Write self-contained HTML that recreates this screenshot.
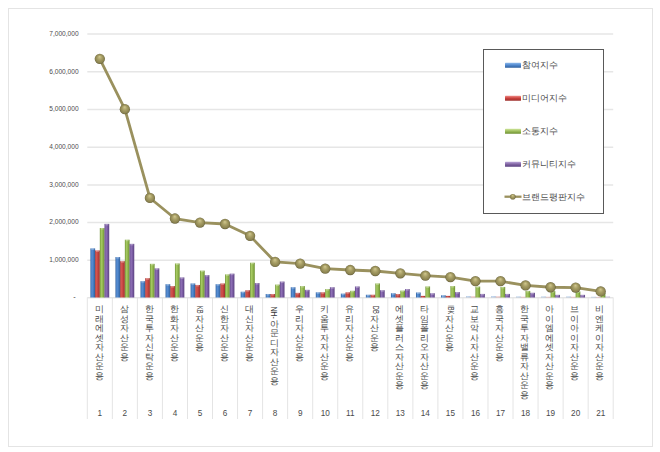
<!DOCTYPE html>
<html><head><meta charset="utf-8"><style>
html,body{margin:0;padding:0;background:#fff;}
body{width:660px;height:452px;overflow:hidden;position:relative;font-family:"Liberation Sans",sans-serif;}
svg{position:absolute;left:0;top:0;}
.lbl{position:absolute;color:#4a4a4a;font-size:9px;line-height:9.5px;text-align:center;white-space:nowrap;}
.rot{display:inline-block;color:#3a3a3a;transform:rotate(90deg) scaleX(0.7);font-size:8px;line-height:9.5px;}
</style></head><body>
<svg width="660" height="452" viewBox="0 0 660 452">
<defs>
<linearGradient id="gb" x1="0" x2="1" y1="0" y2="0"><stop offset="0" stop-color="#2d5c99"/><stop offset="0.3" stop-color="#5a92d8"/><stop offset="0.6" stop-color="#4a80c4"/><stop offset="1" stop-color="#2f5e9a"/></linearGradient>
<linearGradient id="gr" x1="0" x2="1" y1="0" y2="0"><stop offset="0" stop-color="#9e302e"/><stop offset="0.3" stop-color="#d65550"/><stop offset="0.6" stop-color="#c4433f"/><stop offset="1" stop-color="#9b302d"/></linearGradient>
<linearGradient id="gg" x1="0" x2="1" y1="0" y2="0"><stop offset="0" stop-color="#6f9233"/><stop offset="0.3" stop-color="#a6ca62"/><stop offset="0.6" stop-color="#92b74f"/><stop offset="1" stop-color="#6c8f31"/></linearGradient>
<linearGradient id="gp" x1="0" x2="1" y1="0" y2="0"><stop offset="0" stop-color="#5c4382"/><stop offset="0.3" stop-color="#9072b8"/><stop offset="0.6" stop-color="#7c5ea5"/><stop offset="1" stop-color="#5a4180"/></linearGradient>
<linearGradient id="lb" x1="0" x2="0" y1="0" y2="1"><stop offset="0" stop-color="#8ab8ec"/><stop offset="0.5" stop-color="#4f86cc"/><stop offset="1" stop-color="#2e5f9c"/></linearGradient>
<linearGradient id="lr" x1="0" x2="0" y1="0" y2="1"><stop offset="0" stop-color="#f08a86"/><stop offset="0.5" stop-color="#c9403c"/><stop offset="1" stop-color="#9b302d"/></linearGradient>
<linearGradient id="lg" x1="0" x2="0" y1="0" y2="1"><stop offset="0" stop-color="#cfe69a"/><stop offset="0.5" stop-color="#9bbb59"/><stop offset="1" stop-color="#6c8f31"/></linearGradient>
<linearGradient id="lp" x1="0" x2="0" y1="0" y2="1"><stop offset="0" stop-color="#b9a3d8"/><stop offset="0.5" stop-color="#8064a2"/><stop offset="1" stop-color="#5a4180"/></linearGradient>
<radialGradient id="gm" cx="0.5" cy="0.5" r="0.5" fx="0.48" fy="0.28"><stop offset="0" stop-color="#d2c990"/><stop offset="0.45" stop-color="#a89f66"/><stop offset="0.85" stop-color="#8b8350"/><stop offset="1" stop-color="#66603a"/></radialGradient>
</defs>
<rect x="8.5" y="8.5" width="644" height="438" fill="#fff" stroke="#e4e4e4" stroke-width="1"/>

<line x1="87.3" y1="260.30" x2="613.2" y2="260.30" stroke="#e6e6e6" stroke-width="1.5"/>
<text x="78.6" y="261.60" text-anchor="end" font-family="Liberation Sans" font-size="6.6" fill="#4d4d4d">1,000,000</text>
<line x1="87.3" y1="222.60" x2="613.2" y2="222.60" stroke="#e6e6e6" stroke-width="1.5"/>
<text x="78.6" y="224.07" text-anchor="end" font-family="Liberation Sans" font-size="6.6" fill="#4d4d4d">2,000,000</text>
<line x1="87.3" y1="184.90" x2="613.2" y2="184.90" stroke="#e6e6e6" stroke-width="1.5"/>
<text x="78.6" y="186.54" text-anchor="end" font-family="Liberation Sans" font-size="6.6" fill="#4d4d4d">3,000,000</text>
<line x1="87.3" y1="147.20" x2="613.2" y2="147.20" stroke="#e6e6e6" stroke-width="1.5"/>
<text x="78.6" y="149.01" text-anchor="end" font-family="Liberation Sans" font-size="6.6" fill="#4d4d4d">4,000,000</text>
<line x1="87.3" y1="109.50" x2="613.2" y2="109.50" stroke="#e6e6e6" stroke-width="1.5"/>
<text x="78.6" y="111.48" text-anchor="end" font-family="Liberation Sans" font-size="6.6" fill="#4d4d4d">5,000,000</text>
<line x1="87.3" y1="71.80" x2="613.2" y2="71.80" stroke="#e6e6e6" stroke-width="1.5"/>
<text x="78.6" y="73.95" text-anchor="end" font-family="Liberation Sans" font-size="6.6" fill="#4d4d4d">6,000,000</text>
<line x1="87.3" y1="34.10" x2="613.2" y2="34.10" stroke="#e6e6e6" stroke-width="1.5"/>
<text x="78.6" y="36.42" text-anchor="end" font-family="Liberation Sans" font-size="6.6" fill="#4d4d4d">7,000,000</text>
<text x="75.8" y="298.70" text-anchor="end" font-family="Liberation Sans" font-size="7.4" fill="#333">-</text>
<line x1="87.3" y1="297.8" x2="613.2" y2="297.8" stroke="#dadada" stroke-width="1"/>
<line x1="87.30" y1="297.5" x2="87.30" y2="419" stroke="#e4e4e4" stroke-width="1"/>
<line x1="112.34" y1="297.5" x2="112.34" y2="419" stroke="#e4e4e4" stroke-width="1"/>
<line x1="137.39" y1="297.5" x2="137.39" y2="419" stroke="#e4e4e4" stroke-width="1"/>
<line x1="162.43" y1="297.5" x2="162.43" y2="419" stroke="#e4e4e4" stroke-width="1"/>
<line x1="187.47" y1="297.5" x2="187.47" y2="419" stroke="#e4e4e4" stroke-width="1"/>
<line x1="212.51" y1="297.5" x2="212.51" y2="419" stroke="#e4e4e4" stroke-width="1"/>
<line x1="237.56" y1="297.5" x2="237.56" y2="419" stroke="#e4e4e4" stroke-width="1"/>
<line x1="262.60" y1="297.5" x2="262.60" y2="419" stroke="#e4e4e4" stroke-width="1"/>
<line x1="287.64" y1="297.5" x2="287.64" y2="419" stroke="#e4e4e4" stroke-width="1"/>
<line x1="312.69" y1="297.5" x2="312.69" y2="419" stroke="#e4e4e4" stroke-width="1"/>
<line x1="337.73" y1="297.5" x2="337.73" y2="419" stroke="#e4e4e4" stroke-width="1"/>
<line x1="362.77" y1="297.5" x2="362.77" y2="419" stroke="#e4e4e4" stroke-width="1"/>
<line x1="387.81" y1="297.5" x2="387.81" y2="419" stroke="#e4e4e4" stroke-width="1"/>
<line x1="412.86" y1="297.5" x2="412.86" y2="419" stroke="#e4e4e4" stroke-width="1"/>
<line x1="437.90" y1="297.5" x2="437.90" y2="419" stroke="#e4e4e4" stroke-width="1"/>
<line x1="462.94" y1="297.5" x2="462.94" y2="419" stroke="#e4e4e4" stroke-width="1"/>
<line x1="487.99" y1="297.5" x2="487.99" y2="419" stroke="#e4e4e4" stroke-width="1"/>
<line x1="513.03" y1="297.5" x2="513.03" y2="419" stroke="#e4e4e4" stroke-width="1"/>
<line x1="538.07" y1="297.5" x2="538.07" y2="419" stroke="#e4e4e4" stroke-width="1"/>
<line x1="563.11" y1="297.5" x2="563.11" y2="419" stroke="#e4e4e4" stroke-width="1"/>
<line x1="588.16" y1="297.5" x2="588.16" y2="419" stroke="#e4e4e4" stroke-width="1"/>
<line x1="613.20" y1="297.5" x2="613.20" y2="419" stroke="#e4e4e4" stroke-width="1"/>
<rect x="90.42" y="248.38" width="4.7" height="49.12" fill="url(#gb)"/>
<rect x="91.22" y="248.38" width="3.10" height="1.5" fill="#fff" fill-opacity="0.3"/>
<rect x="95.12" y="250.41" width="4.7" height="47.09" fill="url(#gr)"/>
<rect x="95.92" y="250.41" width="3.10" height="1.5" fill="#fff" fill-opacity="0.3"/>
<rect x="99.82" y="228.02" width="4.7" height="69.48" fill="url(#gg)"/>
<rect x="100.62" y="228.02" width="3.10" height="1.5" fill="#fff" fill-opacity="0.3"/>
<rect x="104.52" y="223.87" width="4.7" height="73.63" fill="url(#gp)"/>
<rect x="105.32" y="223.87" width="3.10" height="1.5" fill="#fff" fill-opacity="0.3"/>
<rect x="115.46" y="257.05" width="4.7" height="40.45" fill="url(#gb)"/>
<rect x="116.26" y="257.05" width="3.10" height="1.5" fill="#fff" fill-opacity="0.3"/>
<rect x="120.16" y="261.19" width="4.7" height="36.31" fill="url(#gr)"/>
<rect x="120.96" y="261.19" width="3.10" height="1.5" fill="#fff" fill-opacity="0.3"/>
<rect x="124.86" y="239.71" width="4.7" height="57.79" fill="url(#gg)"/>
<rect x="125.66" y="239.71" width="3.10" height="1.5" fill="#fff" fill-opacity="0.3"/>
<rect x="129.56" y="243.85" width="4.7" height="53.65" fill="url(#gp)"/>
<rect x="130.36" y="243.85" width="3.10" height="1.5" fill="#fff" fill-opacity="0.3"/>
<rect x="140.51" y="281.18" width="4.7" height="16.32" fill="url(#gb)"/>
<rect x="141.31" y="281.18" width="3.10" height="1.5" fill="#fff" fill-opacity="0.3"/>
<rect x="145.21" y="278.16" width="4.7" height="19.34" fill="url(#gr)"/>
<rect x="146.01" y="278.16" width="3.10" height="1.5" fill="#fff" fill-opacity="0.3"/>
<rect x="149.91" y="263.83" width="4.7" height="33.67" fill="url(#gg)"/>
<rect x="150.71" y="263.83" width="3.10" height="1.5" fill="#fff" fill-opacity="0.3"/>
<rect x="154.61" y="268.36" width="4.7" height="29.14" fill="url(#gp)"/>
<rect x="155.41" y="268.36" width="3.10" height="1.5" fill="#fff" fill-opacity="0.3"/>
<rect x="165.55" y="284.19" width="4.7" height="13.31" fill="url(#gb)"/>
<rect x="166.35" y="284.19" width="3.10" height="1.5" fill="#fff" fill-opacity="0.3"/>
<rect x="170.25" y="286.08" width="4.7" height="11.42" fill="url(#gr)"/>
<rect x="171.05" y="286.08" width="3.10" height="1.5" fill="#fff" fill-opacity="0.3"/>
<rect x="174.95" y="263.46" width="4.7" height="34.04" fill="url(#gg)"/>
<rect x="175.75" y="263.46" width="3.10" height="1.5" fill="#fff" fill-opacity="0.3"/>
<rect x="179.65" y="277.41" width="4.7" height="20.09" fill="url(#gp)"/>
<rect x="180.45" y="277.41" width="3.10" height="1.5" fill="#fff" fill-opacity="0.3"/>
<rect x="190.59" y="283.44" width="4.7" height="14.06" fill="url(#gb)"/>
<rect x="191.39" y="283.44" width="3.10" height="1.5" fill="#fff" fill-opacity="0.3"/>
<rect x="195.29" y="284.95" width="4.7" height="12.55" fill="url(#gr)"/>
<rect x="196.09" y="284.95" width="3.10" height="1.5" fill="#fff" fill-opacity="0.3"/>
<rect x="199.99" y="270.62" width="4.7" height="26.88" fill="url(#gg)"/>
<rect x="200.79" y="270.62" width="3.10" height="1.5" fill="#fff" fill-opacity="0.3"/>
<rect x="204.69" y="275.14" width="4.7" height="22.36" fill="url(#gp)"/>
<rect x="205.49" y="275.14" width="3.10" height="1.5" fill="#fff" fill-opacity="0.3"/>
<rect x="215.64" y="284.19" width="4.7" height="13.31" fill="url(#gb)"/>
<rect x="216.44" y="284.19" width="3.10" height="1.5" fill="#fff" fill-opacity="0.3"/>
<rect x="220.34" y="283.44" width="4.7" height="14.06" fill="url(#gr)"/>
<rect x="221.14" y="283.44" width="3.10" height="1.5" fill="#fff" fill-opacity="0.3"/>
<rect x="225.04" y="274.39" width="4.7" height="23.11" fill="url(#gg)"/>
<rect x="225.84" y="274.39" width="3.10" height="1.5" fill="#fff" fill-opacity="0.3"/>
<rect x="229.74" y="273.64" width="4.7" height="23.86" fill="url(#gp)"/>
<rect x="230.54" y="273.64" width="3.10" height="1.5" fill="#fff" fill-opacity="0.3"/>
<rect x="240.68" y="291.73" width="4.7" height="5.77" fill="url(#gb)"/>
<rect x="241.48" y="291.73" width="3.10" height="1.5" fill="#fff" fill-opacity="0.3"/>
<rect x="245.38" y="290.22" width="4.7" height="7.28" fill="url(#gr)"/>
<rect x="246.18" y="290.22" width="3.10" height="1.5" fill="#fff" fill-opacity="0.3"/>
<rect x="250.08" y="262.70" width="4.7" height="34.80" fill="url(#gg)"/>
<rect x="250.88" y="262.70" width="3.10" height="1.5" fill="#fff" fill-opacity="0.3"/>
<rect x="254.78" y="283.06" width="4.7" height="14.44" fill="url(#gp)"/>
<rect x="255.58" y="283.06" width="3.10" height="1.5" fill="#fff" fill-opacity="0.3"/>
<rect x="265.72" y="293.99" width="4.7" height="3.51" fill="url(#gb)"/>
<rect x="266.52" y="293.99" width="3.10" height="1.5" fill="#fff" fill-opacity="0.3"/>
<rect x="270.42" y="293.99" width="4.7" height="3.51" fill="url(#gr)"/>
<rect x="271.22" y="293.99" width="3.10" height="1.5" fill="#fff" fill-opacity="0.3"/>
<rect x="275.12" y="284.57" width="4.7" height="12.93" fill="url(#gg)"/>
<rect x="275.92" y="284.57" width="3.10" height="1.5" fill="#fff" fill-opacity="0.3"/>
<rect x="279.82" y="281.55" width="4.7" height="15.95" fill="url(#gp)"/>
<rect x="280.62" y="281.55" width="3.10" height="1.5" fill="#fff" fill-opacity="0.3"/>
<rect x="290.76" y="287.21" width="4.7" height="10.29" fill="url(#gb)"/>
<rect x="291.56" y="287.21" width="3.10" height="1.5" fill="#fff" fill-opacity="0.3"/>
<rect x="295.46" y="292.86" width="4.7" height="4.64" fill="url(#gr)"/>
<rect x="296.26" y="292.86" width="3.10" height="1.5" fill="#fff" fill-opacity="0.3"/>
<rect x="300.16" y="286.08" width="4.7" height="11.42" fill="url(#gg)"/>
<rect x="300.96" y="286.08" width="3.10" height="1.5" fill="#fff" fill-opacity="0.3"/>
<rect x="304.86" y="289.85" width="4.7" height="7.65" fill="url(#gp)"/>
<rect x="305.66" y="289.85" width="3.10" height="1.5" fill="#fff" fill-opacity="0.3"/>
<rect x="315.81" y="292.30" width="4.7" height="5.20" fill="url(#gb)"/>
<rect x="316.61" y="292.30" width="3.10" height="1.5" fill="#fff" fill-opacity="0.3"/>
<rect x="320.51" y="292.30" width="4.7" height="5.20" fill="url(#gr)"/>
<rect x="321.31" y="292.30" width="3.10" height="1.5" fill="#fff" fill-opacity="0.3"/>
<rect x="325.21" y="289.09" width="4.7" height="8.41" fill="url(#gg)"/>
<rect x="326.01" y="289.09" width="3.10" height="1.5" fill="#fff" fill-opacity="0.3"/>
<rect x="329.91" y="287.21" width="4.7" height="10.29" fill="url(#gp)"/>
<rect x="330.71" y="287.21" width="3.10" height="1.5" fill="#fff" fill-opacity="0.3"/>
<rect x="340.85" y="293.62" width="4.7" height="3.88" fill="url(#gb)"/>
<rect x="341.65" y="293.62" width="3.10" height="1.5" fill="#fff" fill-opacity="0.3"/>
<rect x="345.55" y="292.30" width="4.7" height="5.20" fill="url(#gr)"/>
<rect x="346.35" y="292.30" width="3.10" height="1.5" fill="#fff" fill-opacity="0.3"/>
<rect x="350.25" y="290.79" width="4.7" height="6.71" fill="url(#gg)"/>
<rect x="351.05" y="290.79" width="3.10" height="1.5" fill="#fff" fill-opacity="0.3"/>
<rect x="354.95" y="286.45" width="4.7" height="11.05" fill="url(#gp)"/>
<rect x="355.75" y="286.45" width="3.10" height="1.5" fill="#fff" fill-opacity="0.3"/>
<rect x="365.89" y="294.75" width="4.7" height="2.75" fill="url(#gb)"/>
<rect x="366.69" y="294.75" width="3.10" height="1.5" fill="#fff" fill-opacity="0.3"/>
<rect x="370.59" y="294.75" width="4.7" height="2.75" fill="url(#gr)"/>
<rect x="371.39" y="294.75" width="3.10" height="1.5" fill="#fff" fill-opacity="0.3"/>
<rect x="375.29" y="283.44" width="4.7" height="14.06" fill="url(#gg)"/>
<rect x="376.09" y="283.44" width="3.10" height="1.5" fill="#fff" fill-opacity="0.3"/>
<rect x="379.99" y="290.22" width="4.7" height="7.28" fill="url(#gp)"/>
<rect x="380.79" y="290.22" width="3.10" height="1.5" fill="#fff" fill-opacity="0.3"/>
<rect x="390.94" y="293.24" width="4.7" height="4.26" fill="url(#gb)"/>
<rect x="391.74" y="293.24" width="3.10" height="1.5" fill="#fff" fill-opacity="0.3"/>
<rect x="395.64" y="293.99" width="4.7" height="3.51" fill="url(#gr)"/>
<rect x="396.44" y="293.99" width="3.10" height="1.5" fill="#fff" fill-opacity="0.3"/>
<rect x="400.34" y="290.60" width="4.7" height="6.90" fill="url(#gg)"/>
<rect x="401.14" y="290.60" width="3.10" height="1.5" fill="#fff" fill-opacity="0.3"/>
<rect x="405.04" y="289.09" width="4.7" height="8.41" fill="url(#gp)"/>
<rect x="405.84" y="289.09" width="3.10" height="1.5" fill="#fff" fill-opacity="0.3"/>
<rect x="415.98" y="292.49" width="4.7" height="5.01" fill="url(#gb)"/>
<rect x="416.78" y="292.49" width="3.10" height="1.5" fill="#fff" fill-opacity="0.3"/>
<rect x="420.68" y="295.88" width="4.7" height="1.62" fill="url(#gr)"/>
<rect x="425.38" y="286.45" width="4.7" height="11.05" fill="url(#gg)"/>
<rect x="426.18" y="286.45" width="3.10" height="1.5" fill="#fff" fill-opacity="0.3"/>
<rect x="430.08" y="293.24" width="4.7" height="4.26" fill="url(#gp)"/>
<rect x="430.88" y="293.24" width="3.10" height="1.5" fill="#fff" fill-opacity="0.3"/>
<rect x="441.02" y="295.31" width="4.7" height="2.19" fill="url(#gb)"/>
<rect x="441.82" y="295.31" width="3.10" height="1.5" fill="#fff" fill-opacity="0.3"/>
<rect x="445.72" y="295.88" width="4.7" height="1.62" fill="url(#gr)"/>
<rect x="450.42" y="286.08" width="4.7" height="11.42" fill="url(#gg)"/>
<rect x="451.22" y="286.08" width="3.10" height="1.5" fill="#fff" fill-opacity="0.3"/>
<rect x="455.12" y="292.11" width="4.7" height="5.39" fill="url(#gp)"/>
<rect x="455.92" y="292.11" width="3.10" height="1.5" fill="#fff" fill-opacity="0.3"/>
<rect x="466.06" y="295.99" width="4.7" height="1.51" fill="url(#gb)" fill-opacity="0.35"/>
<rect x="470.76" y="296.37" width="4.7" height="1.13" fill="url(#gr)" fill-opacity="0.35"/>
<rect x="475.46" y="286.57" width="4.7" height="10.93" fill="url(#gg)"/>
<rect x="476.26" y="286.57" width="3.10" height="1.5" fill="#fff" fill-opacity="0.3"/>
<rect x="480.16" y="293.92" width="4.7" height="3.58" fill="url(#gp)"/>
<rect x="480.96" y="293.92" width="3.10" height="1.5" fill="#fff" fill-opacity="0.3"/>
<rect x="491.11" y="295.99" width="4.7" height="1.51" fill="url(#gb)" fill-opacity="0.35"/>
<rect x="495.81" y="296.37" width="4.7" height="1.13" fill="url(#gr)" fill-opacity="0.35"/>
<rect x="500.51" y="286.94" width="4.7" height="10.56" fill="url(#gg)"/>
<rect x="501.31" y="286.94" width="3.10" height="1.5" fill="#fff" fill-opacity="0.3"/>
<rect x="505.21" y="293.92" width="4.7" height="3.58" fill="url(#gp)"/>
<rect x="506.01" y="293.92" width="3.10" height="1.5" fill="#fff" fill-opacity="0.3"/>
<rect x="516.15" y="296.37" width="4.7" height="1.13" fill="url(#gb)" fill-opacity="0.35"/>
<rect x="520.85" y="296.75" width="4.7" height="0.75" fill="url(#gr)" fill-opacity="0.35"/>
<rect x="525.55" y="290.90" width="4.7" height="6.60" fill="url(#gg)"/>
<rect x="526.35" y="290.90" width="3.10" height="1.5" fill="#fff" fill-opacity="0.3"/>
<rect x="530.25" y="292.79" width="4.7" height="4.71" fill="url(#gp)"/>
<rect x="531.05" y="292.79" width="3.10" height="1.5" fill="#fff" fill-opacity="0.3"/>
<rect x="541.19" y="296.37" width="4.7" height="1.13" fill="url(#gb)" fill-opacity="0.35"/>
<rect x="545.89" y="296.75" width="4.7" height="0.75" fill="url(#gr)" fill-opacity="0.35"/>
<rect x="550.59" y="291.09" width="4.7" height="6.41" fill="url(#gg)"/>
<rect x="551.39" y="291.09" width="3.10" height="1.5" fill="#fff" fill-opacity="0.3"/>
<rect x="555.29" y="294.86" width="4.7" height="2.64" fill="url(#gp)"/>
<rect x="556.09" y="294.86" width="3.10" height="1.5" fill="#fff" fill-opacity="0.3"/>
<rect x="566.24" y="296.37" width="4.7" height="1.13" fill="url(#gb)" fill-opacity="0.35"/>
<rect x="570.94" y="296.75" width="4.7" height="0.75" fill="url(#gr)" fill-opacity="0.35"/>
<rect x="575.64" y="291.47" width="4.7" height="6.03" fill="url(#gg)"/>
<rect x="576.44" y="291.47" width="3.10" height="1.5" fill="#fff" fill-opacity="0.3"/>
<rect x="580.34" y="294.86" width="4.7" height="2.64" fill="url(#gp)"/>
<rect x="581.14" y="294.86" width="3.10" height="1.5" fill="#fff" fill-opacity="0.3"/>
<rect x="591.28" y="296.75" width="4.7" height="0.75" fill="url(#gb)" fill-opacity="0.35"/>
<rect x="595.98" y="296.90" width="4.7" height="0.60" fill="url(#gr)" fill-opacity="0.35"/>
<rect x="600.68" y="292.98" width="4.7" height="4.52" fill="url(#gg)"/>
<rect x="601.48" y="292.98" width="3.10" height="1.5" fill="#fff" fill-opacity="0.3"/>
<rect x="605.38" y="296.37" width="4.7" height="1.13" fill="url(#gp)" fill-opacity="0.35"/>
<polyline points="99.82,58.86 124.86,109.19 149.91,197.97 174.95,218.52 199.99,222.59 225.04,223.99 250.08,235.82 275.12,261.91 300.16,263.61 325.21,268.70 350.25,270.02 375.29,271.00 400.34,273.30 425.38,275.71 450.42,277.10 475.46,281.21 500.51,281.21 525.55,285.44 550.59,287.25 575.64,287.55 600.68,291.47" fill="none" stroke="#9a915e" stroke-width="2.8" stroke-linejoin="round"/>
<circle cx="99.82" cy="58.86" r="5.15" fill="url(#gm)"/>
<circle cx="124.86" cy="109.19" r="5.15" fill="url(#gm)"/>
<circle cx="149.91" cy="197.97" r="5.15" fill="url(#gm)"/>
<circle cx="174.95" cy="218.52" r="5.15" fill="url(#gm)"/>
<circle cx="199.99" cy="222.59" r="5.15" fill="url(#gm)"/>
<circle cx="225.04" cy="223.99" r="5.15" fill="url(#gm)"/>
<circle cx="250.08" cy="235.82" r="5.15" fill="url(#gm)"/>
<circle cx="275.12" cy="261.91" r="5.15" fill="url(#gm)"/>
<circle cx="300.16" cy="263.61" r="5.15" fill="url(#gm)"/>
<circle cx="325.21" cy="268.70" r="5.15" fill="url(#gm)"/>
<circle cx="350.25" cy="270.02" r="5.15" fill="url(#gm)"/>
<circle cx="375.29" cy="271.00" r="5.15" fill="url(#gm)"/>
<circle cx="400.34" cy="273.30" r="5.15" fill="url(#gm)"/>
<circle cx="425.38" cy="275.71" r="5.15" fill="url(#gm)"/>
<circle cx="450.42" cy="277.10" r="5.15" fill="url(#gm)"/>
<circle cx="475.46" cy="281.21" r="5.15" fill="url(#gm)"/>
<circle cx="500.51" cy="281.21" r="5.15" fill="url(#gm)"/>
<circle cx="525.55" cy="285.44" r="5.15" fill="url(#gm)"/>
<circle cx="550.59" cy="287.25" r="5.15" fill="url(#gm)"/>
<circle cx="575.64" cy="287.55" r="5.15" fill="url(#gm)"/>
<circle cx="600.68" cy="291.47" r="5.15" fill="url(#gm)"/>
<text x="99.82" y="416" text-anchor="middle" font-family="Liberation Sans" font-size="8.2" fill="#4a4a4a">1</text>
<text x="124.86" y="416" text-anchor="middle" font-family="Liberation Sans" font-size="8.2" fill="#4a4a4a">2</text>
<text x="149.91" y="416" text-anchor="middle" font-family="Liberation Sans" font-size="8.2" fill="#4a4a4a">3</text>
<text x="174.95" y="416" text-anchor="middle" font-family="Liberation Sans" font-size="8.2" fill="#4a4a4a">4</text>
<text x="199.99" y="416" text-anchor="middle" font-family="Liberation Sans" font-size="8.2" fill="#4a4a4a">5</text>
<text x="225.04" y="416" text-anchor="middle" font-family="Liberation Sans" font-size="8.2" fill="#4a4a4a">6</text>
<text x="250.08" y="416" text-anchor="middle" font-family="Liberation Sans" font-size="8.2" fill="#4a4a4a">7</text>
<text x="275.12" y="416" text-anchor="middle" font-family="Liberation Sans" font-size="8.2" fill="#4a4a4a">8</text>
<text x="300.16" y="416" text-anchor="middle" font-family="Liberation Sans" font-size="8.2" fill="#4a4a4a">9</text>
<text x="325.21" y="416" text-anchor="middle" font-family="Liberation Sans" font-size="8.2" fill="#4a4a4a">10</text>
<text x="350.25" y="416" text-anchor="middle" font-family="Liberation Sans" font-size="8.2" fill="#4a4a4a">11</text>
<text x="375.29" y="416" text-anchor="middle" font-family="Liberation Sans" font-size="8.2" fill="#4a4a4a">12</text>
<text x="400.34" y="416" text-anchor="middle" font-family="Liberation Sans" font-size="8.2" fill="#4a4a4a">13</text>
<text x="425.38" y="416" text-anchor="middle" font-family="Liberation Sans" font-size="8.2" fill="#4a4a4a">14</text>
<text x="450.42" y="416" text-anchor="middle" font-family="Liberation Sans" font-size="8.2" fill="#4a4a4a">15</text>
<text x="475.46" y="416" text-anchor="middle" font-family="Liberation Sans" font-size="8.2" fill="#4a4a4a">16</text>
<text x="500.51" y="416" text-anchor="middle" font-family="Liberation Sans" font-size="8.2" fill="#4a4a4a">17</text>
<text x="525.55" y="416" text-anchor="middle" font-family="Liberation Sans" font-size="8.2" fill="#4a4a4a">18</text>
<text x="550.59" y="416" text-anchor="middle" font-family="Liberation Sans" font-size="8.2" fill="#4a4a4a">19</text>
<text x="575.64" y="416" text-anchor="middle" font-family="Liberation Sans" font-size="8.2" fill="#4a4a4a">20</text>
<text x="600.68" y="416" text-anchor="middle" font-family="Liberation Sans" font-size="8.2" fill="#4a4a4a">21</text>
<rect x="483.5" y="49.5" width="120" height="164" fill="#fff" stroke="#595959" stroke-width="1"/>
<rect x="505" y="62.8" width="16" height="5" rx="0.6" fill="url(#lb)"/>
<text x="522" y="67.9" font-family="Liberation Sans" font-size="9" fill="#4a4a4a">참여지수</text>
<rect x="505" y="95.8" width="16" height="5" rx="0.6" fill="url(#lr)"/>
<text x="522" y="100.9" font-family="Liberation Sans" font-size="9" fill="#4a4a4a">미디어지수</text>
<rect x="505" y="128.8" width="16" height="5" rx="0.6" fill="url(#lg)"/>
<text x="522" y="133.9" font-family="Liberation Sans" font-size="9" fill="#4a4a4a">소통지수</text>
<rect x="505" y="161.8" width="16" height="5" rx="0.6" fill="url(#lp)"/>
<text x="522" y="166.9" font-family="Liberation Sans" font-size="9" fill="#4a4a4a">커뮤니티지수</text>
<line x1="504.5" y1="196.7" x2="521.5" y2="196.7" stroke="#9a915e" stroke-width="2.3"/>
<circle cx="512.8" cy="196.7" r="2.8" fill="url(#gm)"/>
<text x="522" y="199.9" font-family="Liberation Sans" font-size="9" fill="#4a4a4a">브랜드평판지수</text>
</svg>
<div class="lbl" style="left:91.12px;top:305.3px;width:16px;">미<br>래<br>에<br>셋<br>자<br>산<br>운<br>용</div>
<div class="lbl" style="left:116.16px;top:305.3px;width:16px;">삼<br>성<br>자<br>산<br>운<br>용</div>
<div class="lbl" style="left:141.21px;top:305.3px;width:16px;">한<br>국<br>투<br>자<br>신<br>탁<br>운<br>용</div>
<div class="lbl" style="left:166.25px;top:305.3px;width:16px;">한<br>화<br>자<br>산<br>운<br>용</div>
<div class="lbl" style="left:191.29px;top:305.3px;width:16px;"><div style="height:9.5px;display:flex;align-items:center;justify-content:center;"><span class="rot" style="font-size:8.4px;transform:rotate(90deg) scaleX(0.68);">KB</span></div>자<br>산<br>운<br>용</div>
<div class="lbl" style="left:216.34px;top:305.3px;width:16px;">신<br>한<br>자<br>산<br>운<br>용</div>
<div class="lbl" style="left:241.38px;top:305.3px;width:16px;">대<br>신<br>자<br>산<br>운<br>용</div>
<div class="lbl" style="left:266.42px;top:305.3px;width:16px;"><div style="height:14.7px;display:flex;align-items:center;justify-content:center;"><span class="rot" style="font-size:9.5px;transform:rotate(90deg) scaleX(0.72);">NH-</span></div>아<br>문<br>디<br>자<br>산<br>운<br>용</div>
<div class="lbl" style="left:291.46px;top:305.3px;width:16px;">우<br>리<br>자<br>산<br>운<br>용</div>
<div class="lbl" style="left:316.51px;top:305.3px;width:16px;">키<br>움<br>투<br>자<br>자<br>산<br>운<br>용</div>
<div class="lbl" style="left:341.55px;top:305.3px;width:16px;">유<br>리<br>자<br>산<br>운<br>용</div>
<div class="lbl" style="left:366.59px;top:305.3px;width:16px;"><div style="height:9.5px;display:flex;align-items:center;justify-content:center;"><span class="rot" style="font-size:8.4px;transform:rotate(90deg) scaleX(0.68);">DB</span></div>자<br>산<br>운<br>용</div>
<div class="lbl" style="left:391.64px;top:305.3px;width:16px;">에<br>셋<br>플<br>러<br>스<br>자<br>산<br>운<br>용</div>
<div class="lbl" style="left:416.68px;top:305.3px;width:16px;">타<br>임<br>폴<br>리<br>오<br>자<br>산<br>운<br>용</div>
<div class="lbl" style="left:441.72px;top:305.3px;width:16px;"><div style="height:9.5px;display:flex;align-items:center;justify-content:center;"><span class="rot" style="font-size:8.4px;transform:rotate(90deg) scaleX(0.68);">IBK</span></div>자<br>산<br>운<br>용</div>
<div class="lbl" style="left:466.76px;top:305.3px;width:16px;">교<br>보<br>악<br>사<br>자<br>산<br>운<br>용</div>
<div class="lbl" style="left:491.81px;top:305.3px;width:16px;">흥<br>국<br>자<br>산<br>운<br>용</div>
<div class="lbl" style="left:516.85px;top:305.3px;width:16px;">한<br>국<br>투<br>자<br>밸<br>류<br>자<br>산<br>운<br>용</div>
<div class="lbl" style="left:541.89px;top:305.3px;width:16px;">아<br>이<br>엠<br>에<br>셋<br>자<br>산<br>운<br>용</div>
<div class="lbl" style="left:566.94px;top:305.3px;width:16px;">브<br>이<br>아<br>이<br>자<br>산<br>운<br>용</div>
<div class="lbl" style="left:591.98px;top:305.3px;width:16px;">비<br>엔<br>케<br>이<br>자<br>산<br>운<br>용</div>
</body></html>
